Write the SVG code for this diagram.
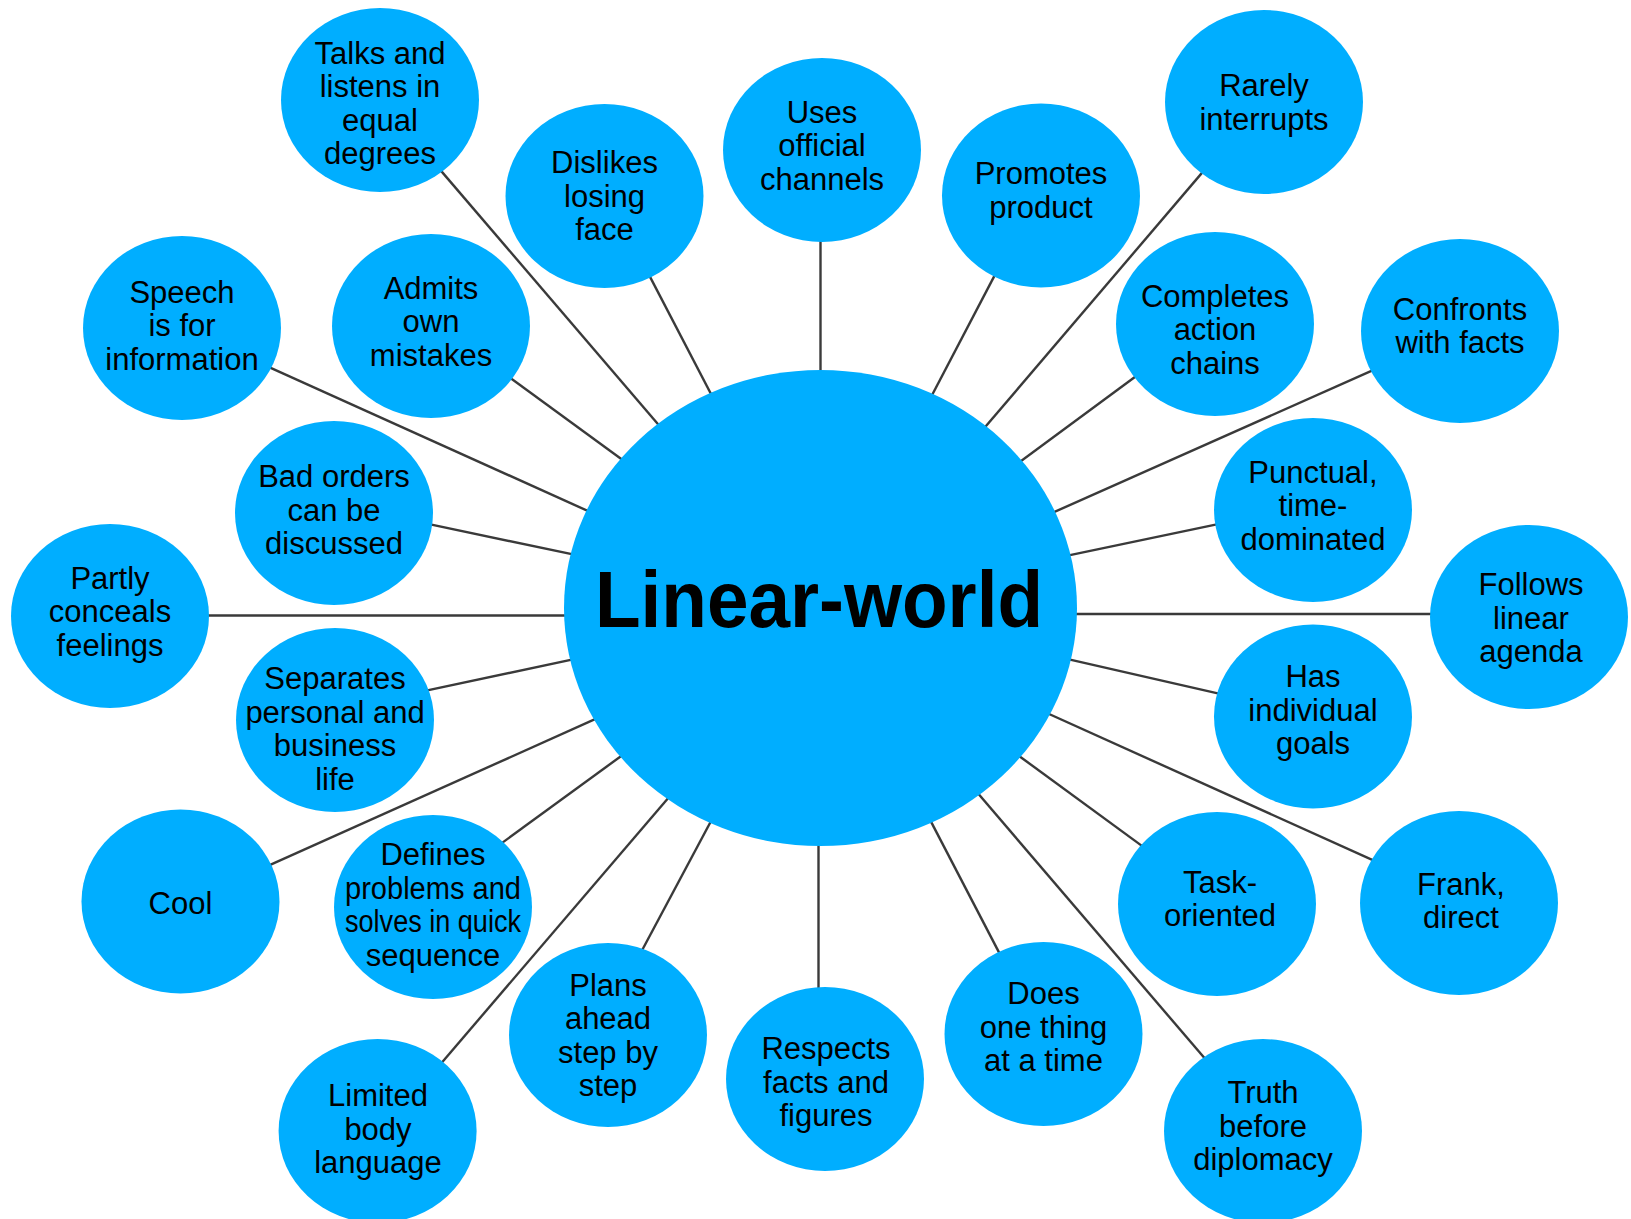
<svg xmlns="http://www.w3.org/2000/svg" width="1631" height="1219" viewBox="0 0 1631 1219">
<style>
.bg{fill:#ffffff}
.n{fill:#00AEFF}
.c line{stroke:#3a3a3a;stroke-width:2.4}
.t{font-family:"Liberation Sans",Arial,Helvetica,sans-serif;font-size:31px;fill:#000;text-anchor:middle}
.big{font-family:"Liberation Sans",Arial,Helvetica,sans-serif;font-size:79px;font-weight:bold;fill:#000;text-anchor:middle}
</style>
<rect class="bg" x="0" y="0" width="1631" height="1219"/>
<g id="connectors" class="c">
<line x1="435.5" y1="164.4" x2="666.2" y2="433.7"/>
<line x1="646.4" y1="269.9" x2="716.6" y2="404.8"/>
<line x1="262.9" y1="364.4" x2="599.5" y2="516.2"/>
<line x1="504.5" y1="373.7" x2="631.9" y2="466.8"/>
<line x1="423.2" y1="522.9" x2="583.7" y2="556.7"/>
<line x1="195" y1="615.5" x2="585" y2="615.5"/>
<line x1="820.5" y1="235" x2="820.5" y2="385"/>
<line x1="998.6" y1="267.9" x2="927.0" y2="404.8"/>
<line x1="1207.5" y1="166.4" x2="978.1" y2="435.3"/>
<line x1="1142" y1="371.7" x2="1012.3" y2="467.6"/>
<line x1="1378.7" y1="367.6" x2="1042.1" y2="517.4"/>
<line x1="1225.1" y1="522.7" x2="1056.8" y2="557.9"/>
<line x1="1440" y1="614" x2="1060" y2="614"/>
<line x1="419.1" y1="692.1" x2="584.7" y2="656.9"/>
<line x1="262.9" y1="868.1" x2="607.3" y2="713.7"/>
<line x1="496.6" y1="846.9" x2="631.9" y2="748.2"/>
<line x1="437" y1="1068.2" x2="676.6" y2="788.3"/>
<line x1="638.6" y1="956.8" x2="716.8" y2="810.2"/>
<line x1="818.5" y1="835" x2="818.5" y2="995"/>
<line x1="1228.7" y1="695.9" x2="1056.9" y2="656.7"/>
<line x1="1381.1" y1="863.9" x2="1036.9" y2="708.5"/>
<line x1="1150.1" y1="851.9" x2="1009.7" y2="749.1"/>
<line x1="1002.9" y1="959.9" x2="925" y2="810.1"/>
<line x1="1209.8" y1="1064.3" x2="970.2" y2="784.3"/>
</g>
<g id="node-linear-world">
<ellipse class="n" cx="820.5" cy="608" rx="256.5" ry="238"/>
<text class="big" x="819" y="627" textLength="448" lengthAdjust="spacingAndGlyphs">Linear-world</text>
</g>
<g id="node-talks">
<ellipse class="n" cx="380" cy="100" rx="99" ry="92"/>
<text class="t"><tspan x="380" y="63.5">Talks and</tspan><tspan x="380" y="97">listens in</tspan><tspan x="380" y="130.5">equal</tspan><tspan x="380" y="164">degrees</tspan></text>
</g>
<g id="node-dislikes">
<ellipse class="n" cx="604.5" cy="196" rx="99" ry="92"/>
<text class="t"><tspan x="604.5" y="173">Dislikes</tspan><tspan x="604.5" y="206.5">losing</tspan><tspan x="604.5" y="240">face</tspan></text>
</g>
<g id="node-uses">
<ellipse class="n" cx="822" cy="150" rx="99" ry="92"/>
<text class="t"><tspan x="822" y="122.5">Uses</tspan><tspan x="822" y="156">official</tspan><tspan x="822" y="189.5">channels</tspan></text>
</g>
<g id="node-promotes">
<ellipse class="n" cx="1041" cy="195.5" rx="99" ry="92"/>
<text class="t"><tspan x="1041" y="184">Promotes</tspan><tspan x="1041" y="217.5">product</tspan></text>
</g>
<g id="node-rarely">
<ellipse class="n" cx="1264" cy="102" rx="99" ry="92"/>
<text class="t"><tspan x="1264" y="96">Rarely</tspan><tspan x="1264" y="129.5">interrupts</tspan></text>
</g>
<g id="node-speech">
<ellipse class="n" cx="182" cy="328" rx="99" ry="92"/>
<text class="t"><tspan x="182" y="302.5">Speech</tspan><tspan x="182" y="336">is for</tspan><tspan x="182" y="369.5">information</tspan></text>
</g>
<g id="node-admits">
<ellipse class="n" cx="431" cy="326" rx="99" ry="92"/>
<text class="t"><tspan x="431" y="298.5">Admits</tspan><tspan x="431" y="332">own</tspan><tspan x="431" y="365.5">mistakes</tspan></text>
</g>
<g id="node-completes">
<ellipse class="n" cx="1215" cy="324" rx="99" ry="92"/>
<text class="t"><tspan x="1215" y="306.5">Completes</tspan><tspan x="1215" y="340">action</tspan><tspan x="1215" y="373.5">chains</tspan></text>
</g>
<g id="node-confronts">
<ellipse class="n" cx="1460" cy="331" rx="99" ry="92"/>
<text class="t"><tspan x="1460" y="319.5">Confronts</tspan><tspan x="1460" y="353">with facts</tspan></text>
</g>
<g id="node-bad-orders">
<ellipse class="n" cx="334" cy="513" rx="99" ry="92"/>
<text class="t"><tspan x="334" y="487">Bad orders</tspan><tspan x="334" y="520.5">can be</tspan><tspan x="334" y="554">discussed</tspan></text>
</g>
<g id="node-punctual">
<ellipse class="n" cx="1313" cy="510" rx="99" ry="92"/>
<text class="t"><tspan x="1313" y="482.5">Punctual,</tspan><tspan x="1313" y="516">time-</tspan><tspan x="1313" y="549.5">dominated</tspan></text>
</g>
<g id="node-partly">
<ellipse class="n" cx="110" cy="616" rx="99" ry="92"/>
<text class="t"><tspan x="110" y="588.5">Partly</tspan><tspan x="110" y="622">conceals</tspan><tspan x="110" y="655.5">feelings</tspan></text>
</g>
<g id="node-follows">
<ellipse class="n" cx="1529" cy="617" rx="99" ry="92"/>
<text class="t"><tspan x="1531" y="595">Follows</tspan><tspan x="1531" y="628.5">linear</tspan><tspan x="1531" y="662">agenda</tspan></text>
</g>
<g id="node-separates">
<ellipse class="n" cx="335" cy="720" rx="99" ry="92"/>
<text class="t"><tspan x="335" y="689">Separates</tspan><tspan x="335" y="722.5">personal and</tspan><tspan x="335" y="756">business</tspan><tspan x="335" y="789.5">life</tspan></text>
</g>
<g id="node-has">
<ellipse class="n" cx="1313" cy="716.5" rx="99" ry="92"/>
<text class="t"><tspan x="1313" y="687">Has</tspan><tspan x="1313" y="720.5">individual</tspan><tspan x="1313" y="754">goals</tspan></text>
</g>
<g id="node-cool">
<ellipse class="n" cx="180.5" cy="901.5" rx="99" ry="92"/>
<text class="t"><tspan x="180.5" y="914">Cool</tspan></text>
</g>
<g id="node-defines">
<ellipse class="n" cx="433" cy="907" rx="99" ry="92"/>
<text class="t" x="433" y="865">Defines</text>
<text class="t" x="433" y="898.5" textLength="176" lengthAdjust="spacingAndGlyphs">problems and</text>
<text class="t" x="433" y="932" textLength="176" lengthAdjust="spacingAndGlyphs">solves in quick</text>
<text class="t" x="433" y="965.5">sequence</text>
</g>
<g id="node-task">
<ellipse class="n" cx="1217" cy="904" rx="99" ry="92"/>
<text class="t"><tspan x="1220" y="892.5">Task-</tspan><tspan x="1220" y="926">oriented</tspan></text>
</g>
<g id="node-frank">
<ellipse class="n" cx="1459" cy="903" rx="99" ry="92"/>
<text class="t"><tspan x="1461" y="894.5">Frank,</tspan><tspan x="1461" y="928">direct</tspan></text>
</g>
<g id="node-plans">
<ellipse class="n" cx="608" cy="1035" rx="99" ry="92"/>
<text class="t"><tspan x="608" y="995.5">Plans</tspan><tspan x="608" y="1029">ahead</tspan><tspan x="608" y="1062.5">step by</tspan><tspan x="608" y="1096">step</tspan></text>
</g>
<g id="node-does">
<ellipse class="n" cx="1043.5" cy="1034" rx="99" ry="92"/>
<text class="t"><tspan x="1043.5" y="1004">Does</tspan><tspan x="1043.5" y="1037.5">one thing</tspan><tspan x="1043.5" y="1071">at a time</tspan></text>
</g>
<g id="node-limited">
<ellipse class="n" cx="377.6" cy="1131" rx="99" ry="92"/>
<text class="t"><tspan x="378" y="1106">Limited</tspan><tspan x="378" y="1139.5">body</tspan><tspan x="378" y="1173">language</tspan></text>
</g>
<g id="node-respects">
<ellipse class="n" cx="825" cy="1079" rx="99" ry="92"/>
<text class="t"><tspan x="826" y="1059">Respects</tspan><tspan x="826" y="1092.5">facts and</tspan><tspan x="826" y="1126">figures</tspan></text>
</g>
<g id="node-truth">
<ellipse class="n" cx="1263" cy="1131" rx="99" ry="92"/>
<text class="t"><tspan x="1263" y="1103">Truth</tspan><tspan x="1263" y="1136.5">before</tspan><tspan x="1263" y="1170">diplomacy</tspan></text>
</g>
</svg>
